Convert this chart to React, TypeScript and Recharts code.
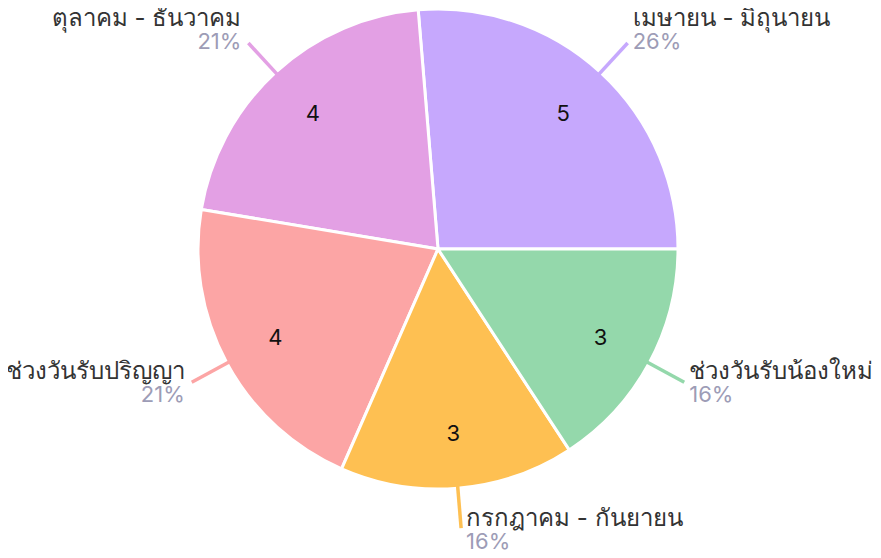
import { PieChart, Pie, Cell } from 'recharts'

const periods = [
  'เมษายน - มิถุนายน',
  'ตุลาคม - ธันวาคม',
  'ช่วงวันรับปริญญา',
  'กรกฎาคม - กันยายน',
  'ช่วงวันรับน้องใหม่'
]
const counts = [5, 4, 4, 3, 3]
const colors = ['#c6a8fd', '#e3a0e4', '#fca5a5', '#fec052', '#94d8ab']

const data = periods.map((name, i) => ({ name, value: counts[i] }))

const RADIAN = Math.PI / 180
const font = 'Inter, "Noto Sans", sans-serif'

function renderLabel (props: any) {
  const { cx, cy, midAngle, outerRadius, percent, name, value, index } = props
  const cos = Math.cos(-midAngle * RADIAN)
  const sin = Math.sin(-midAngle * RADIAN)
  // value inside the slice
  const ir = outerRadius * 0.77
  const ix = cx + ir * cos
  const iy = cy + ir * sin
  // leader line
  const sx = cx + (outerRadius - 4) * cos
  const sy = cy + (outerRadius - 4) * sin
  const ex = cx + (outerRadius + 40) * cos
  const ey = cy + (outerRadius + 40) * sin
  const right = cos >= 0
  const tx = right ? ex + 5 : ex - 7
  const up = -sin
  const mid = ey + (up > 0 ? -15 : up < -0.9 ? 0 : -1)
  return (
    <g>
      <text x={ix} y={iy} fill='#111' fontSize={22} fontFamily={font} textAnchor='middle' dominantBaseline='central'>
        {value}
      </text>
      <line x1={sx} y1={sy} x2={ex} y2={ey} stroke={colors[index]} strokeWidth={3.5} />
      <text x={tx} y={mid - 11} fill='#333' fontSize={24} fontFamily={font} textAnchor={right ? 'start' : 'end'} dominantBaseline='central'>
        {name}
      </text>
      <text x={tx} y={mid + 13} fill='#9d9cb6' fontSize={22} fontFamily={font} textAnchor={right ? 'start' : 'end'} dominantBaseline='central'>
        {`${Math.round(percent * 100)}%`}
      </text>
    </g>
  )
}

export default function App () {
  return (
    <PieChart width={865} height={542} margin={{ top: 0, right: 0, bottom: 0, left: 0 }}>
      <Pie
        data={data}
        dataKey='value'
        nameKey='name'
        cx={430}
        cy={241}
        outerRadius={240}
        startAngle={0}
        endAngle={360}
        stroke='#fff'
        strokeWidth={3}
        label={renderLabel}
        labelLine={false}
        isAnimationActive={false}
      >
        {data.map((d, i) => (
          <Cell key={d.name} fill={colors[i]} />
        ))}
      </Pie>
    </PieChart>
  )
}
